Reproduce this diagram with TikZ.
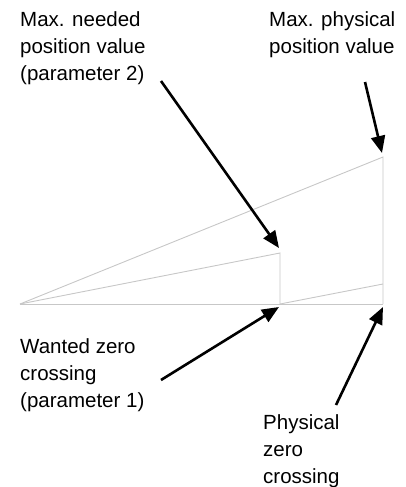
\documentclass[tikz,border=0pt]{standalone}
\usepackage{fontspec}
\setmainfont{Liberation Sans}
\usetikzlibrary{arrows.meta}
\tikzset{
  graph/.style={draw=black!22, line width=0.9pt},
  callout/.style={draw=black, line width=2.6pt, -{Triangle[length=17pt,width=14pt]}},
  lbl/.style={inner sep=0pt, align=left, anchor=base west, font=\fontsize{20.5}{27}\selectfont}
}
\begin{document}
\begin{tikzpicture}[x=1pt,y=-1pt]
\useasboundingbox (0,0) rectangle (405,487);
% graph geometry
\coordinate (O) at (20,304);
\coordinate (W) at (280,304);
\coordinate (P) at (383,304);
\coordinate (WT) at (280,253);
\coordinate (PT) at (383,157);
\coordinate (PL) at (383,284);
\draw[graph] (O) -- (P);
\draw[graph] (O) -- (PT) -- (P);
\draw[graph] (O) -- (WT) -- (W);
\draw[graph] (W) -- (PL);
% labels (anchor = baseline of last line)
\node[lbl] (maxneed) at (20,81) {Max. needed\\position value\\(parameter 2)};
\node[lbl] (maxphys) at (269,53) {Max. physical\\position value};
\node[lbl] (wanted) at (20,407) {Wanted zero\\crossing\\(parameter 1)};
\node[lbl] (phys) at (263,483) {Physical\\zero\\crossing};
% arrow end points
\coordinate (a1s) at (161,81);
\coordinate (a1e) at (279,248);
\coordinate (a2s) at (365,82);
\coordinate (a2e) at (382,153);
\coordinate (a3s) at (161,380);
\coordinate (a3e) at (279,307);
\coordinate (a4s) at (336,405);
\coordinate (a4e) at (383,307);
\draw[callout] (a1s) -- (a1e);
\draw[callout] (a2s) -- (a2e);
\draw[callout] (a3s) -- (a3e);
\draw[callout] (a4s) -- (a4e);
\end{tikzpicture}
\end{document}
